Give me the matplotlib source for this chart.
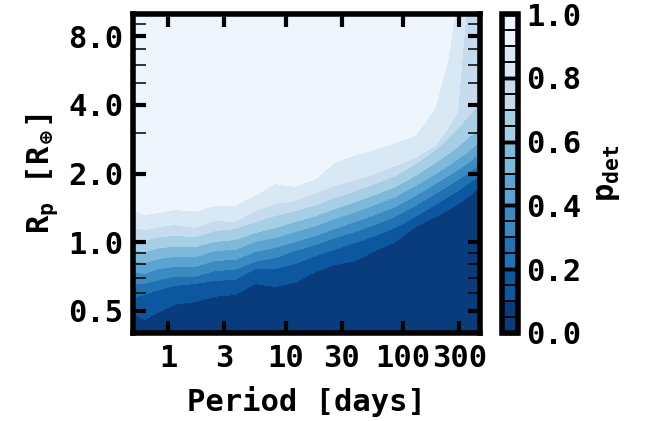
import numpy as np
import matplotlib
matplotlib.use("Agg")
import matplotlib.pyplot as plt
from matplotlib.ticker import FixedLocator, FixedFormatter, NullLocator, LogLocator, NullFormatter

# ---------------- data ----------------
periods = [0.5, 0.63, 0.85, 1.14, 1.7, 2.5, 3.7, 5.5, 8.1, 12, 18, 26, 39,
           57, 85, 126, 186, 240, 290, 355, 450]
pdet_levels = [0.1, 0.2, 0.3, 0.4, 0.5, 0.6, 0.7, 0.8, 0.9]
# radius [R_earth] of each p_det contour at each period
r_p10 = [0.489, 0.460, 0.500, 0.535, 0.551, 0.580, 0.591, 0.660, 0.641, 0.667, 0.745,
         0.799, 0.832, 0.920, 1.007, 1.171, 1.295, 1.389, 1.475, 1.583, 1.768]
r_p20 = [0.574, 0.591, 0.622, 0.647, 0.660, 0.681, 0.687, 0.768, 0.768, 0.807, 0.875,
         0.929, 0.997, 1.069, 1.159, 1.295, 1.460, 1.583, 1.681, 1.804, 1.974]
r_p30 = [0.654, 0.660, 0.687, 0.709, 0.709, 0.752, 0.760, 0.824, 0.857, 0.920, 0.977,
         1.048, 1.113, 1.195, 1.295, 1.446, 1.631, 1.768, 1.877, 2.014, 2.205]
r_p40 = [0.738, 0.730, 0.768, 0.783, 0.783, 0.832, 0.840, 0.911, 0.948, 1.007, 1.069,
         1.147, 1.231, 1.321, 1.431, 1.599, 1.804, 1.954, 2.076, 2.227, 2.462]
r_p50 = [0.824, 0.815, 0.849, 0.866, 0.866, 0.920, 0.929, 1.007, 1.048, 1.113, 1.182,
         1.269, 1.361, 1.460, 1.583, 1.768, 1.994, 2.161, 2.318, 2.487, 2.777]
r_p60 = [0.920, 0.911, 0.948, 0.958, 0.958, 1.007, 1.027, 1.102, 1.159, 1.231, 1.308,
         1.402, 1.505, 1.615, 1.750, 1.954, 2.227, 2.437, 2.615, 2.863, 3.197]
r_p70 = [1.027, 1.017, 1.058, 1.069, 1.058, 1.124, 1.147, 1.231, 1.308, 1.375, 1.460,
         1.567, 1.681, 1.804, 1.954, 2.205, 2.538, 2.863, 3.165, 3.535, 4.069]
r_p80 = [1.159, 1.136, 1.171, 1.195, 1.159, 1.244, 1.231, 1.375, 1.475, 1.520, 1.648,
         1.768, 1.877, 1.994, 2.161, 2.341, 2.641, 3.165, 3.717, 12.66, 17.1]
r_p90 = [1.375, 1.321, 1.348, 1.389, 1.361, 1.446, 1.446, 1.599, 1.804, 1.750, 1.896,
         2.227, 2.413, 2.538, 2.722, 2.921, 3.870, 6.27, 12.04, 17.1, 20.9]

x_ticks = [1, 3, 10, 30, 100, 300]
x_ticklabels = ["1", "3", "10", "30", "100", "300"]
y_ticks = [0.5, 1.0, 2.0, 4.0, 8.0]
y_ticklabels = ["0.5", "1.0", "2.0", "4.0", "8.0"]
cb_ticks = [0.0, 0.2, 0.4, 0.6, 0.8, 1.0]
cb_ticklabels = ["0.0", "0.2", "0.4", "0.6", "0.8", "1.0"]

# ---------------- style ----------------
plt.rcParams["font.family"] = ["DejaVu Sans Mono", "DejaVu Sans"]
plt.rcParams["font.weight"] = "bold"
plt.rcParams["axes.labelweight"] = "bold"
plt.rcParams["mathtext.fontset"] = "custom"
plt.rcParams["mathtext.rm"] = "DejaVu Sans Mono:bold"
plt.rcParams["mathtext.it"] = "DejaVu Sans Mono:bold"
plt.rcParams["mathtext.bf"] = "DejaVu Sans Mono:bold"
plt.rcParams["mathtext.default"] = "bf"

FS = 22

# ---------------- p_det grid built from the contour boundaries ----------------
bounds = np.log(np.array([r_p10, r_p20, r_p30, r_p40, r_p50, r_p60, r_p70, r_p80, r_p90]))
logP = np.log(np.array(periods))
pgrid = np.geomspace(periods[0], periods[-1], 600)
rgrid = np.geomspace(0.3, 40, 600)
Z = np.empty((rgrid.size, pgrid.size))
for j, lp in enumerate(np.log(pgrid)):
    col = np.array([np.interp(lp, logP, b) for b in bounds])
    xr = np.concatenate([[np.log(0.3)], col, [np.log(40.0)]])
    yv = np.concatenate([[0.0], pdet_levels, [1.0]])
    Z[:, j] = np.interp(np.log(rgrid), xr, yv)

fig = plt.figure(figsize=(6.51, 4.21), dpi=100)
ax = fig.add_axes([133 / 651, 1 - 333 / 421, (480 - 133) / 651, (333 - 14) / 421])
cax = fig.add_axes([502 / 651, 1 - 333 / 421, 16 / 651, (333 - 14) / 421])

cs = ax.contourf(pgrid, rgrid, Z, levels=np.linspace(0, 1, 11), cmap="Blues_r")
ax.set_xscale("log")
ax.set_yscale("log")
ax.set_xlim(0.5, 450)
ax.set_ylim(0.4, 10)

ax.xaxis.set_major_locator(FixedLocator(x_ticks))
ax.xaxis.set_major_formatter(FixedFormatter(x_ticklabels))
ax.xaxis.set_minor_locator(NullLocator())
ax.yaxis.set_major_locator(FixedLocator(y_ticks))
ax.yaxis.set_major_formatter(FixedFormatter(y_ticklabels))
ax.yaxis.set_minor_locator(LogLocator(base=10, subs=np.arange(2, 10)))
ax.yaxis.set_minor_formatter(NullFormatter())

ax.tick_params(which="both", direction="in", top=True, right=True, labelsize=FS)
ax.tick_params(which="major", length=9, width=3)
ax.tick_params(which="minor", length=9, width=1.1)
ax.tick_params(axis="x", pad=8)
ax.tick_params(axis="y", pad=7)
for s in ax.spines.values():
    s.set_linewidth(4)

ax.set_xlabel("Period [days]", fontsize=FS, fontweight="bold", labelpad=9)
ax.set_ylabel(r"R$_\mathbf{p}$ [R$_\oplus$]", fontsize=FS, fontweight="bold", labelpad=6)

cb = fig.colorbar(cs, cax=cax, ticks=cb_ticks)
cb.ax.set_yticklabels(cb_ticklabels)
cb.ax.yaxis.set_minor_locator(FixedLocator(np.arange(0.05, 1.0, 0.05)))
cb.ax.tick_params(which="both", direction="in", left=True, right=True,
                  length=12, labelsize=FS, pad=6)
cb.ax.tick_params(which="major", width=2.5)
cb.ax.tick_params(which="minor", width=1.2)
cb.outline.set_linewidth(4)
cb.set_label(r"$p_{det}$", fontsize=FS, fontweight="bold", labelpad=8)

fig.savefig("out.png", dpi=100)
